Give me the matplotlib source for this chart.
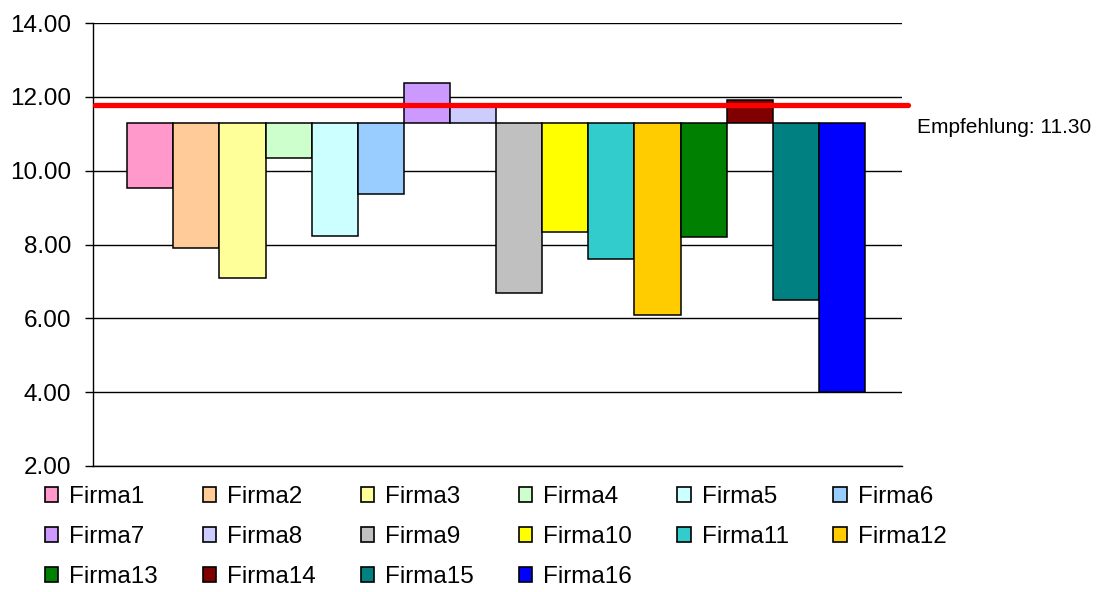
import numpy as np
import matplotlib.pyplot as plt
from matplotlib.patches import Patch

plt.rcParams['font.family'] = ['Liberation Sans', 'DejaVu Sans']

# Daten
firmen = ['Firma%d' % i for i in range(1, 17)]
werte = [9.52, 7.90, 7.09, 10.33, 8.23, 9.36, 12.38, 11.75,
         6.68, 8.34, 7.60, 6.09, 8.20, 11.91, 6.49, 4.00]
farben = ['#FF99CC', '#FFCC99', '#FFFF99', '#CCFFCC', '#CCFFFF', '#99CCFF',
          '#CC99FF', '#CCCCFF', '#C0C0C0', '#FFFF00', '#33CCCC', '#FFCC00',
          '#008000', '#800000', '#008080', '#0000FF']
basis = 11.30
linie = 11.77
label_linie = 'Empfehlung: 11.30'
yticks = [2, 4, 6, 8, 10, 12, 14]

fig = plt.figure(figsize=(10.96, 5.92), dpi=100)
ax = fig.add_axes([93 / 1096, 1 - 466 / 592, 809 / 1096, 443 / 592])

x = np.arange(len(firmen))
hoehen = [w - basis for w in werte]
bars = ax.bar(x, hoehen, bottom=basis, width=1.0, color=farben,
              edgecolor='black', linewidth=1.1, zorder=3)

# Empfehlung als rote Linie
ax.plot([0.002, 1.007], [linie, linie], color='#FF0000', lw=3.8,
        solid_capstyle='round', transform=ax.get_yaxis_transform(),
        clip_on=False, zorder=4)
ax.text(1.018, 11.17, label_linie, transform=ax.get_yaxis_transform(),
        fontsize=15, va='center', ha='left')

ax.set_ylim(2, 14)
ax.set_xlim(-1.24, 16.3)
ax.set_yticks(yticks)
ax.set_yticklabels(['%.2f' % t for t in yticks], fontsize=17.5)
ax.set_xticks([])
ax.tick_params(axis='y', length=6, width=1, pad=9.5, direction='out')
ax.grid(axis='y', color='black', lw=1, zorder=0)
for s in ['top', 'right']:
    ax.spines[s].set_visible(False)
ax.spines['left'].set_linewidth(1)
ax.spines['bottom'].set_linewidth(1)

# Legende zeilenweise (matplotlib fuellt spaltenweise)
reihenfolge = [0, 6, 12, 1, 7, 13, 2, 8, 14, 3, 9, 15, 4, 10, 5, 11]
handles = [Patch(facecolor=farben[i], edgecolor='black', linewidth=1.2) for i in reihenfolge]
labels = [firmen[i] for i in reihenfolge]
fig.legend(handles, labels, ncol=6, loc='upper left',
           bbox_to_anchor=(45 / 1096, 1 - 486 / 592), frameon=False,
           fontsize=17.5, handlelength=0.55, handleheight=0.55,
           handletextpad=0.45, columnspacing=1.85, labelspacing=0.74,
           borderpad=0, borderaxespad=0)

fig.savefig('out.png', dpi=100)
